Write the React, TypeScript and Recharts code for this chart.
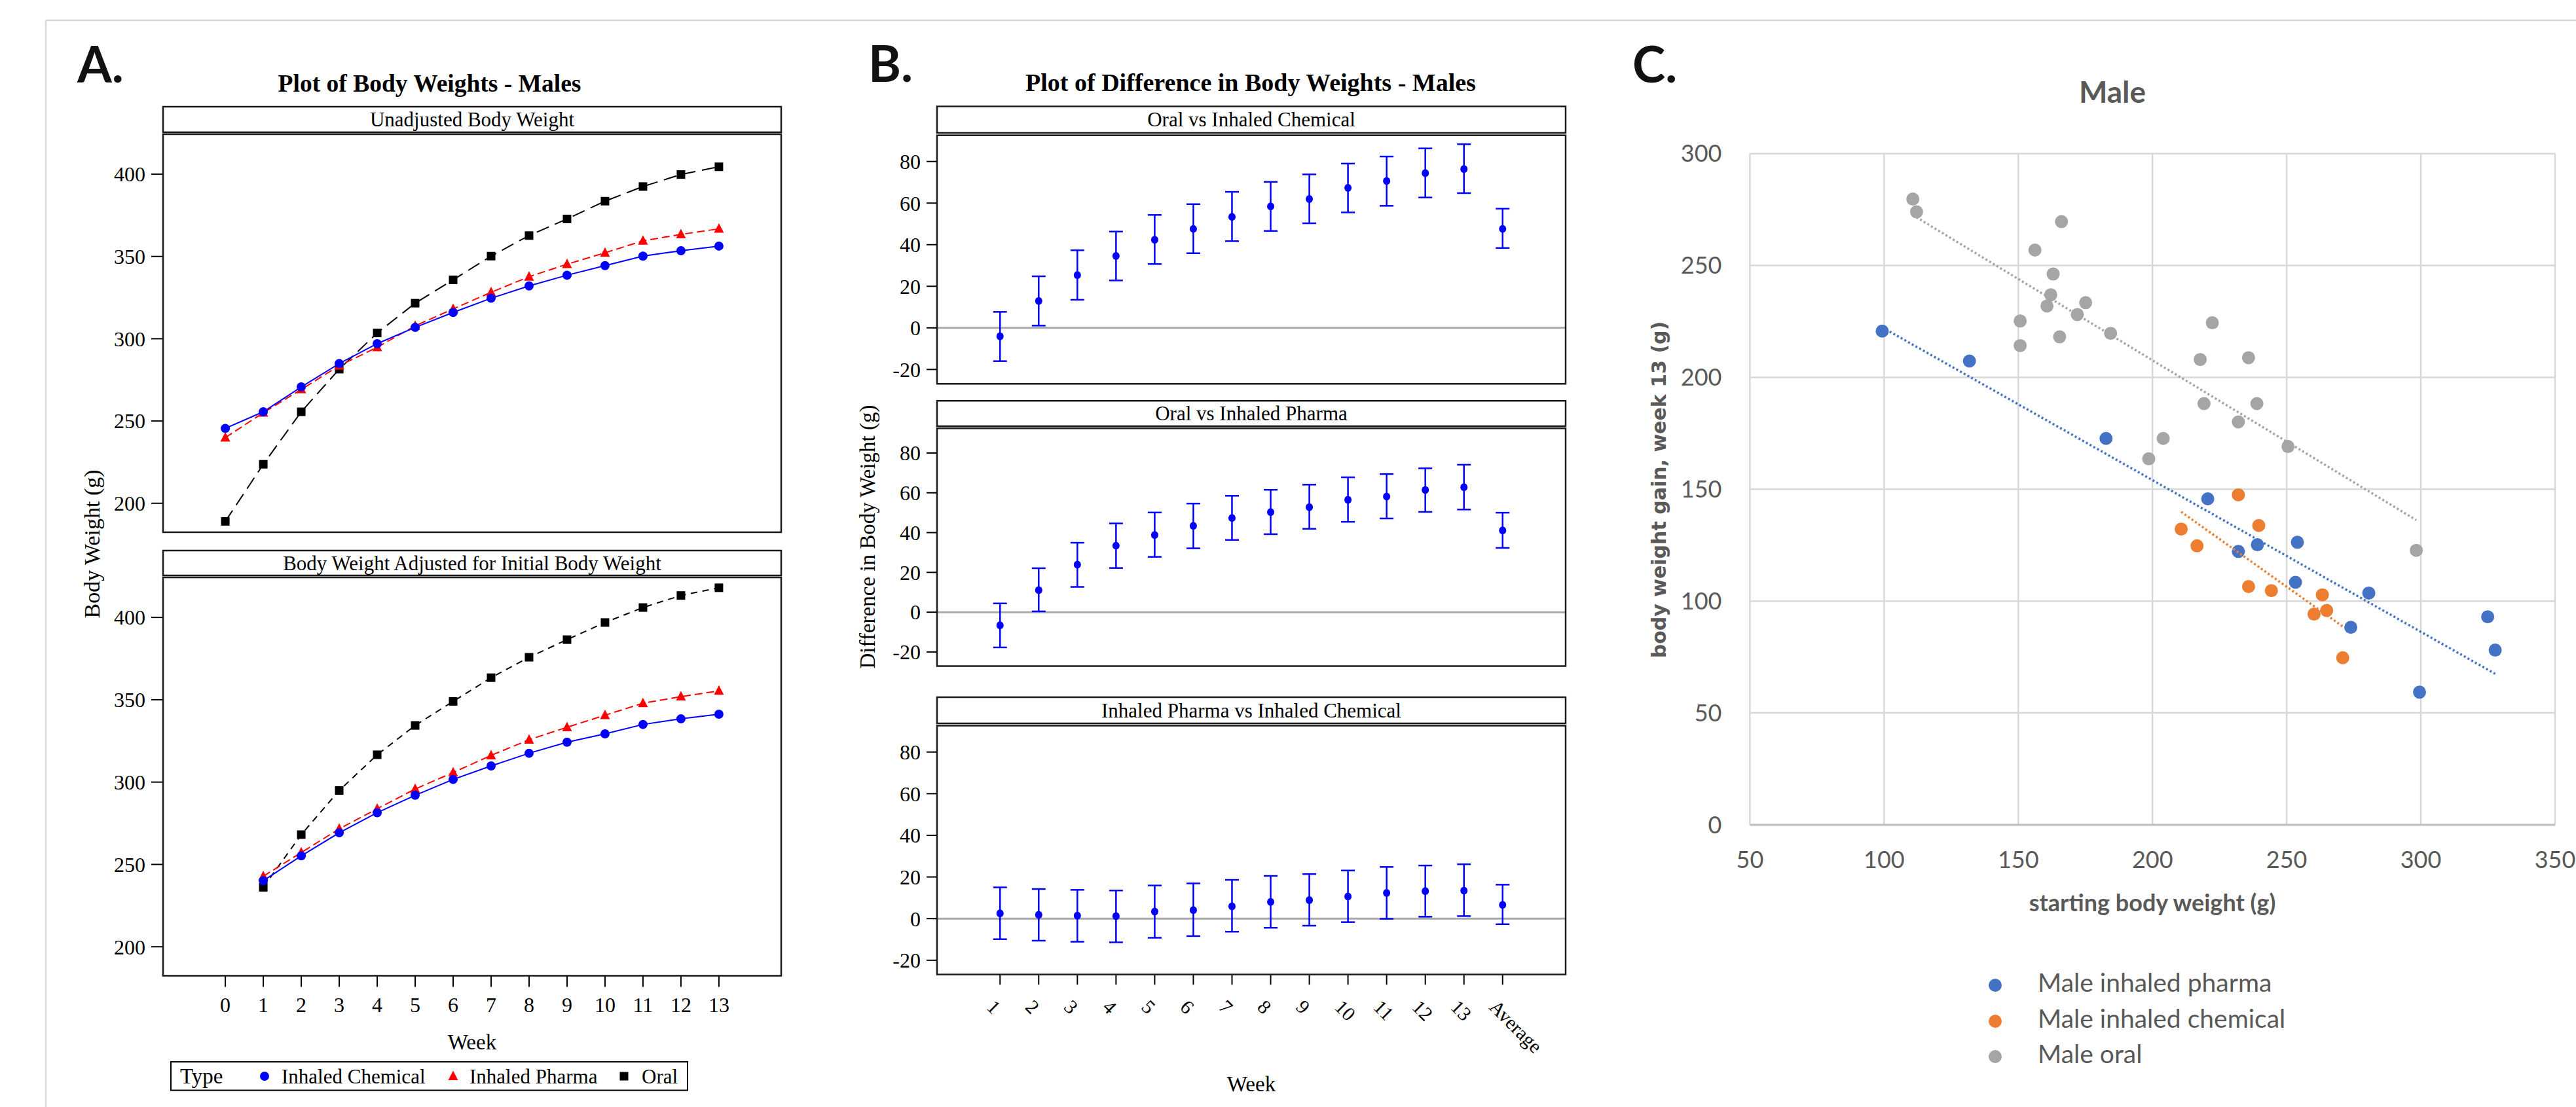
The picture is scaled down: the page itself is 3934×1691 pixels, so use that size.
import React from 'react';
import { LineChart, Line, XAxis, YAxis, ScatterChart, Scatter, ErrorBar, ReferenceLine, CartesianGrid } from 'recharts';

// ---------- Panel A data (body weight, g) ----------
const WEEKS = [0, 1, 2, 3, 4, 5, 6, 7, 8, 9, 10, 11, 12, 13];
const UNADJ_CHEM = [245.5, 255.6, 270.7, 284.9, 297.0, 306.9, 316.0, 324.6, 332.1, 338.6, 344.4, 350.2, 353.5, 356.3];
const UNADJ_PHARMA = [239.9, 255.0, 269.2, 283.6, 294.8, 307.8, 318.1, 328.2, 337.7, 345.3, 352.2, 359.5, 363.4, 366.8];
const UNADJ_ORAL = [189.0, 223.7, 255.6, 281.5, 303.5, 321.6, 335.8, 350.2, 362.7, 372.8, 383.6, 392.5, 399.8, 404.5];
const ADJ_WEEKS = [1, 2, 3, 4, 5, 6, 7, 8, 9, 10, 11, 12, 13];
const ADJ_CHEM = [240.1, 255.2, 269.2, 281.4, 292.0, 301.6, 309.8, 317.5, 324.2, 329.3, 335.0, 338.4, 341.2];
const ADJ_PHARMA = [242.8, 257.2, 271.6, 283.8, 295.8, 305.8, 316.2, 325.7, 333.3, 340.6, 347.9, 351.9, 355.4];
const ADJ_ORAL = [236.1, 268.1, 294.9, 316.6, 334.4, 349.0, 363.4, 375.8, 386.5, 396.9, 406.0, 413.3, 418.0];
const A_TICKS = [200, 250, 300, 350, 400];

// ---------- Panel B data (difference, g) ----------
const DIFF_LABELS = ['1', '2', '3', '4', '5', '6', '7', '8', '9', '10', '11', '12', '13', 'Average'];
const OC_MEAN = [-4.1, 12.9, 25.4, 34.6, 42.4, 47.6, 53.4, 58.4, 62.0, 67.3, 70.6, 74.4, 76.4, 47.6];
const OC_LO = [-16.0, 1.1, 13.5, 22.8, 30.7, 35.9, 41.7, 46.6, 50.3, 55.5, 58.7, 62.7, 64.8, 38.4];
const OC_HI = [7.7, 24.8, 37.3, 46.3, 54.3, 59.5, 65.4, 70.2, 73.8, 79.0, 82.4, 86.3, 88.3, 57.3];
const OP_MEAN = [-6.6, 11.1, 23.9, 33.4, 38.8, 43.4, 47.3, 50.3, 52.8, 56.5, 58.1, 61.4, 62.8, 41.1];
const OP_LO = [-17.7, 0.4, 12.7, 22.2, 27.8, 32.1, 36.3, 39.2, 41.9, 45.4, 47.1, 50.4, 51.6, 32.3];
const OP_HI = [4.4, 22.1, 34.9, 44.6, 50.1, 54.6, 58.5, 61.5, 64.1, 67.8, 69.4, 72.3, 74.1, 50.0];
const PC_MEAN = [2.5, 1.8, 1.4, 1.2, 3.4, 4.1, 5.9, 8.0, 8.9, 10.6, 12.3, 13.2, 13.4, 6.6];
const PC_LO = [-9.9, -10.6, -11.1, -11.4, -9.2, -8.4, -6.3, -4.4, -3.4, -1.7, -0.1, 0.9, 1.2, -2.7];
const PC_HI = [15.0, 14.2, 13.8, 13.5, 15.9, 16.9, 18.6, 20.5, 21.4, 23.1, 24.8, 25.5, 26.1, 16.3];
const B_TICKS = [-20, 0, 20, 40, 60, 80];

// ---------- Panel C data (starting weight vs gain) ----------
const PHARMA_X = [99.3, 131.8, 182.7, 220.6, 254.0, 239.1, 232.0, 253.3, 280.6, 273.9, 324.9, 327.7, 299.5];
const PHARMA_Y = [220.7, 207.3, 172.7, 145.7, 126.3, 125.2, 122.2, 108.4, 103.6, 88.3, 93.0, 78.1, 59.3];
const CHEM_X = [232.0, 239.6, 210.7, 216.6, 235.8, 244.3, 263.3, 260.2, 264.9, 270.9];
const CHEM_Y = [147.5, 133.8, 132.2, 124.7, 106.5, 104.7, 102.8, 94.2, 95.8, 74.7];
const ORAL_X = [110.7, 112.1, 166.1, 156.2, 163.0, 162.1, 160.7, 175.1, 172.0, 150.7, 222.3, 184.4, 165.4, 150.7, 217.8, 235.8, 219.2, 238.9, 232.0, 204.0, 198.6, 250.5, 298.3];
const ORAL_Y = [279.7, 274.0, 269.6, 256.9, 246.2, 236.9, 231.9, 233.4, 228.1, 225.2, 224.4, 219.7, 218.1, 214.2, 208.0, 208.8, 188.3, 188.3, 180.1, 172.7, 163.6, 169.1, 122.7];
const C_XTICKS = [50, 100, 150, 200, 250, 300, 350];
const C_YTICKS = [0, 50, 100, 150, 200, 250, 300];

const SERIF = '"Liberation Serif", "Times New Roman", serif';
const SANS = 'Lato, "Open Sans", sans-serif';
const BLUE = '#0000ff';
const RED = '#ff0000';
const C_BLUE = '#4472c4';
const C_ORANGE = '#ed7d31';
const C_GRAY = '#a5a5a5';
const C_TEXT = '#595959';

function trend(xs: number[], ys: number[]) {
  const n = xs.length;
  const mx = xs.reduce((a, b) => a + b, 0) / n;
  const my = ys.reduce((a, b) => a + b, 0) / n;
  let sxy = 0, sxx = 0;
  for (let i = 0; i < n; i++) { sxy += (xs[i] - mx) * (ys[i] - my); sxx += (xs[i] - mx) ** 2; }
  const b = sxy / sxx;
  const x0 = Math.min(...xs), x1 = Math.max(...xs);
  return [{ x: x0, y: my + b * (x0 - mx) }, { x: x1, y: my + b * (x1 - mx) }];
}
const pts = (xs: number[], ys: number[]) => xs.map((x, i) => ({ x, y: ys[i] }));

const circleDot = (color: string, r: number) => (p: any) => (
  <circle key={`c${p.index}`} cx={p.cx} cy={p.cy} r={r} fill={color} stroke="none" />
);
const triDot = (p: any) => (
  <polygon key={`t${p.index}`} points={`${p.cx},${p.cy - 8.5} ${p.cx - 7.5},${p.cy + 6} ${p.cx + 7.5},${p.cy + 6}`} fill={RED} />
);
const sqDot = (p: any) => (
  <rect key={`s${p.index}`} x={p.cx - 6.5} y={p.cy - 6.5} width={13} height={13} fill="#000" />
);

const serifTick = { fontSize: 32, fontFamily: SERIF, fill: '#000' };

function WeightPanel(props: { weeks: number[]; chem: number[]; pharma: number[]; oral: number[]; top: number; height: number; showX: boolean; oralDash: string }) {
  const { weeks, chem, pharma, oral, top, height, showX, oralDash } = props;
  const rows = weeks.map((w, i) => ({ week: w, chem: chem[i], pharma: pharma[i], oral: oral[i] }));
  return (
    <div style={{ position: 'absolute', left: 100, top }}>
      <LineChart width={1103} height={height} data={rows} margin={{ top: 20, right: 10, bottom: showX ? 0 : 10, left: 0 }}>
        <XAxis type="number" dataKey="week" domain={[-1.64, 14.64]} ticks={WEEKS} interval={0} hide={!showX} height={80}
          tickSize={17} tickMargin={16} axisLine={false} tickLine={{ stroke: '#000', strokeWidth: 2 }} tick={serifTick} />
        <YAxis type="number" domain={[182.4, 424.3]} ticks={A_TICKS} interval={0} width={149}
          tickSize={18} tickMargin={9} axisLine={false} tickLine={{ stroke: '#000', strokeWidth: 2 }} tick={serifTick} />
        <Line type="linear" dataKey="oral" stroke="#000" strokeWidth={2} strokeDasharray={oralDash} dot={sqDot} activeDot={false} isAnimationActive={false} />
        <Line type="linear" dataKey="pharma" stroke={RED} strokeWidth={2} strokeDasharray="12 6" dot={triDot} activeDot={false} isAnimationActive={false} />
        <Line type="linear" dataKey="chem" stroke={BLUE} strokeWidth={2} dot={circleDot(BLUE, 7)} activeDot={false} isAnimationActive={false} />
      </LineChart>
    </div>
  );
}

const DiffTick = (p: any) => {
  const { x, y, payload } = p;
  const lbl = DIFF_LABELS[payload.value - 1];
  const ax = x - 22;
  const ay = y + 34;
  return (
    <text x={ax} y={ay} transform={`rotate(45 ${ax} ${ay})`} fontSize={30} fontFamily={SERIF} fill="#000" textAnchor="start">{lbl}</text>
  );
};

const diffDot = (p: any) => <ellipse cx={p.cx} cy={p.cy} rx={5.5} ry={6} fill={BLUE} />;

function DiffPanel(props: { mean: number[]; lo: number[]; hi: number[]; top: number; height: number; showX: boolean }) {
  const { mean, lo, hi, top, height, showX } = props;
  const rows = DIFF_LABELS.map((_, i) => ({ pos: i + 1, mean: mean[i], err: [mean[i] - lo[i], hi[i] - mean[i]] }));
  return (
    <div style={{ position: 'absolute', left: 1300, top }}>
      <ScatterChart width={1101} height={height} margin={{ top: 20, right: 10, bottom: showX ? 0 : 10, left: 0 }}>
        <XAxis type="number" dataKey="pos" domain={[-0.63, 15.63]} ticks={[1, 2, 3, 4, 5, 6, 7, 8, 9, 10, 11, 12, 13, 14]} interval={0}
          hide={!showX} height={150} tickSize={15} tickMargin={2} axisLine={false} tickLine={{ stroke: '#000', strokeWidth: 2 }} tick={<DiffTick />} />
        <YAxis type="number" dataKey="mean" domain={[-27, 92.5]} ticks={B_TICKS} interval={0} width={131}
          tickSize={16} tickMargin={9} axisLine={false} tickLine={{ stroke: '#000', strokeWidth: 2 }} tick={serifTick} />
        <ReferenceLine y={0} stroke="#a8a8a8" strokeWidth={3} />
        <Scatter data={rows} fill={BLUE} shape={diffDot} isAnimationActive={false}>
          <ErrorBar dataKey="err" direction="y" width={10.5} stroke={BLUE} strokeWidth={2.5} />
        </Scatter>
      </ScatterChart>
    </div>
  );
}

function ScatterPanel() {
  const cTick = { fontSize: 36, fontFamily: SANS, fill: C_TEXT };
  const bigDot = (color: string) => (p: any) => <circle cx={p.cx} cy={p.cy} r={10} fill={color} />;
  const none = () => <g />;
  return (
    <div style={{ position: 'absolute', left: 2540, top: 200 }}>
      <ScatterChart width={1394} height={1150} margin={{ top: 34.7, right: 32, bottom: 0, left: 0 }}>
        <CartesianGrid stroke="#d9d9d9" strokeWidth={2.5} />
        <XAxis type="number" dataKey="x" domain={[50, 350]} ticks={C_XTICKS} interval={0} height={90}
          tickSize={0} tickMargin={40} axisLine={{ stroke: '#bfbfbf', strokeWidth: 3 }} tickLine={false} tick={cTick} />
        <YAxis type="number" dataKey="y" domain={[0, 300]} ticks={C_YTICKS} interval={0} width={132.4}
          tickSize={0} tickMargin={43} axisLine={false} tickLine={false} tick={cTick} />
        <Scatter data={pts(PHARMA_X, PHARMA_Y)} fill={C_BLUE} shape={bigDot(C_BLUE)} isAnimationActive={false} />
        <Scatter data={pts(CHEM_X, CHEM_Y)} fill={C_ORANGE} shape={bigDot(C_ORANGE)} isAnimationActive={false} />
        <Scatter data={pts(ORAL_X, ORAL_Y)} fill={C_GRAY} shape={bigDot(C_GRAY)} isAnimationActive={false} />
        <Scatter data={trend(PHARMA_X, PHARMA_Y)} line={{ stroke: C_BLUE, strokeWidth: 3.5, strokeDasharray: '3 3.5' }} shape={none} isAnimationActive={false} />
        <Scatter data={trend(CHEM_X, CHEM_Y)} line={{ stroke: C_ORANGE, strokeWidth: 3.5, strokeDasharray: '3 3.5' }} shape={none} isAnimationActive={false} />
        <Scatter data={trend(ORAL_X, ORAL_Y)} line={{ stroke: C_GRAY, strokeWidth: 3.5, strokeDasharray: '3 3.5' }} shape={none} isAnimationActive={false} />
      </ScatterChart>
    </div>
  );
}

const FRAME = '#1a1a1a';
function Box({ x0, y0, x1, y1 }: { x0: number; y0: number; x1: number; y1: number }) {
  return <rect x={x0} y={y0} width={x1 - x0} height={y1 - y0} fill="none" stroke={FRAME} strokeWidth={2.5} />;
}

function Overlay() {
  const strips = [
    { x0: 249, x1: 1193, y0: 163, y1: 202, t: 'Unadjusted Body Weight' },
    { x0: 249, x1: 1193, y0: 841, y1: 879, t: 'Body Weight Adjusted for Initial Body Weight' },
    { x0: 1431, x1: 2391, y0: 162.6, y1: 203, t: 'Oral vs Inhaled Chemical' },
    { x0: 1431, x1: 2391, y0: 612.2, y1: 651, t: 'Oral vs Inhaled Pharma' },
    { x0: 1431, x1: 2391, y0: 1065, y1: 1105, t: 'Inhaled Pharma vs Inhaled Chemical' },
  ];
  const plots = [
    { x0: 249, x1: 1193, y0: 205, y1: 813 },
    { x0: 249, x1: 1193, y0: 882, y1: 1490.5 },
    { x0: 1431, x1: 2391, y0: 206.7, y1: 586.3 },
    { x0: 1431, x1: 2391, y0: 654.3, y1: 1017.5 },
    { x0: 1431, x1: 2391, y0: 1108.5, y1: 1488.6 },
  ];
  return (
    <svg width={3934} height={1691} style={{ position: 'absolute', left: 0, top: 0, pointerEvents: 'none' }}>
      <line x1={70} y1={31} x2={3934} y2={31} stroke="#d9d9d9" strokeWidth={2.5} />
      <line x1={70} y1={31} x2={70} y2={1691} stroke="#d9d9d9" strokeWidth={2.5} />

      <text x={118} y={126} fontFamily={SANS} fontWeight={700} fontSize={76} fill="#111">A.</text>
      <text x={1326} y={125} fontFamily={SANS} fontWeight={700} fontSize={76} fill="#111">B.</text>
      <text x={2493} y={126} fontFamily={SANS} fontWeight={700} fontSize={76} fill="#111">C.</text>

      <text x={656} y={140} textAnchor="middle" fontFamily={SERIF} fontWeight={700} fontSize={37.5} fill="#000">Plot of Body Weights - Males</text>
      <text x={1910} y={139} textAnchor="middle" fontFamily={SERIF} fontWeight={700} fontSize={38} fill="#000">Plot of Difference in Body Weights - Males</text>

      {strips.map((s, i) => (
        <g key={`s${i}`}>
          <Box x0={s.x0} y0={s.y0} x1={s.x1} y1={s.y1} />
          <text x={(s.x0 + s.x1) / 2} y={(s.y0 + s.y1) / 2 + 10.5} textAnchor="middle" fontFamily={SERIF} fontSize={31} fill="#000">{s.t}</text>
        </g>
      ))}
      {plots.map((p, i) => <Box key={`p${i}`} {...p} />)}

      <text transform="translate(152 831) rotate(-90)" textAnchor="middle" fontFamily={SERIF} fontSize={34} fill="#000">Body Weight (g)</text>
      <text x={721} y={1603} textAnchor="middle" fontFamily={SERIF} fontSize={33} fill="#000">Week</text>

      <rect x={261} y={1622} width={789} height={43.5} fill="none" stroke="#000" strokeWidth={2} />
      <text x={275} y={1655} fontFamily={SERIF} fontSize={33} fill="#000">Type</text>
      <circle cx={404} cy={1644} r={7} fill={BLUE} />
      <text x={430} y={1654.5} fontFamily={SERIF} fontSize={31} fill="#000">Inhaled Chemical</text>
      <polygon points="692,1635.5 684.5,1650 699.5,1650" fill={RED} />
      <text x={717} y={1654.5} fontFamily={SERIF} fontSize={31} fill="#000">Inhaled Pharma</text>
      <rect x={946.5} y={1637.5} width={13} height={13} fill="#000" />
      <text x={980} y={1654.5} fontFamily={SERIF} fontSize={31} fill="#000">Oral</text>

      <text transform="translate(1336 820) rotate(-90)" textAnchor="middle" fontFamily={SERIF} fontSize={33} fill="#000">Difference in Body Weight (g)</text>
      <text x={1911} y={1667} textAnchor="middle" fontFamily={SERIF} fontSize={33} fill="#000">Week</text>

      <text x={3226} y={157} textAnchor="middle" fontFamily={SANS} fontWeight={700} fontSize={46} fill={C_TEXT}>Male</text>
      <text x={3287} y={1392} textAnchor="middle" fontFamily={SANS} fontWeight={700} fontSize={36} fill={C_TEXT}>starting body weight (g)</text>
      <text transform="translate(2544 748) rotate(-90)" textAnchor="middle" fontFamily='"DejaVu Sans", sans-serif' fontWeight={700} fontSize={30} fill={C_TEXT}>body weight gain, week 13 (g)</text>

      <circle cx={3047} cy={1505} r={10} fill={C_BLUE} />
      <text x={3112} y={1515} fontFamily={SANS} fontSize={39} fill={C_TEXT}>Male inhaled pharma</text>
      <circle cx={3047} cy={1560} r={10} fill={C_ORANGE} />
      <text x={3112} y={1570} fontFamily={SANS} fontSize={39} fill={C_TEXT}>Male inhaled chemical</text>
      <circle cx={3047} cy={1614} r={10} fill={C_GRAY} />
      <text x={3112} y={1624} fontFamily={SANS} fontSize={39} fill={C_TEXT}>Male oral</text>
    </svg>
  );
}

export default function App() {
  return (
    <div style={{ position: 'absolute', left: 0, top: 0, width: 3934, height: 1691, background: '#fff', overflow: 'hidden' }}>
      <WeightPanel weeks={WEEKS} chem={UNADJ_CHEM} pharma={UNADJ_PHARMA} oral={UNADJ_ORAL} top={185} height={638} showX={false} oralDash="20 10" />
      <WeightPanel weeks={ADJ_WEEKS} chem={ADJ_CHEM} pharma={ADJ_PHARMA} oral={ADJ_ORAL} top={862} height={708.5} showX={true} oralDash="10 8" />
      <DiffPanel mean={OC_MEAN} lo={OC_LO} hi={OC_HI} top={186.7} height={409.6} showX={false} />
      <DiffPanel mean={OP_MEAN} lo={OP_LO} hi={OP_HI} top={634.3} height={393.2} showX={false} />
      <DiffPanel mean={PC_MEAN} lo={PC_LO} hi={PC_HI} top={1088.5} height={550.1} showX={true} />
      <ScatterPanel />
      <Overlay />
    </div>
  );
}
